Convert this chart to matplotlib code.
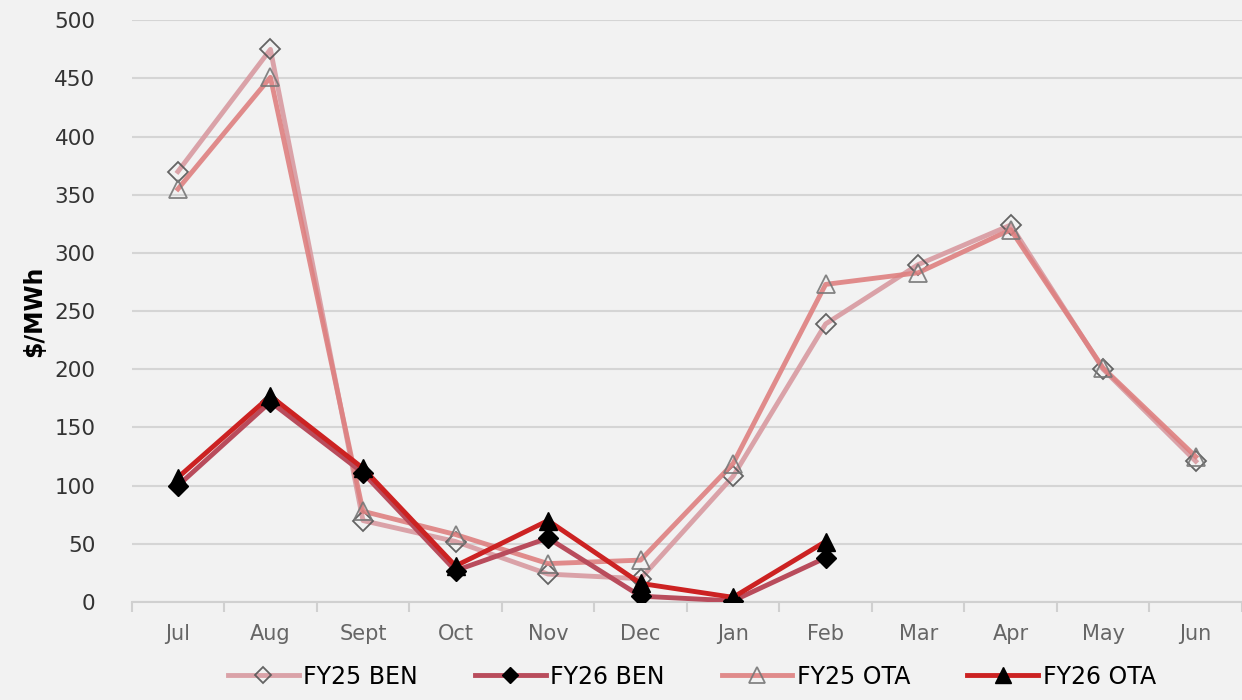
import matplotlib
matplotlib.use("Agg")
import matplotlib.pyplot as plt
import numpy as np

months = ["Jul", "Aug", "Sept", "Oct", "Nov", "Dec", "Jan", "Feb", "Mar", "Apr", "May", "Jun"]
fy25_ben = [370, 475, 70, 52, 24, 20, 108, 239, 290, 324, 200, 121]
fy26_ben = [100, 172, 111, 27, 55, 5, 1, 38]
fy25_ota = [355, 451, 78, 58, 33, 36, 119, 273, 283, 320, 201, 125]
fy26_ota = [107, 177, 115, 31, 70, 16, 4, 52]
yticks = list(range(0, 501, 50))

BG = "#f2f2f2"
plt.rcParams["font.family"] = ["DejaVu Sans"]

fig = plt.figure(figsize=(12.42, 7), dpi=100, facecolor=BG)
ax = fig.add_axes([0.106, 0.14, 0.894, 0.831], facecolor=BG)

x = np.arange(len(months))
ax.plot(x, fy25_ben, color="#d89aa0", lw=3.5, alpha=0.9, marker="D", ms=10,
        mfc="none", mec="#555555", mew=1.3, label="FY25 BEN", zorder=3)
ax.plot(x[:len(fy26_ben)], fy26_ben, color="#b94c5c", lw=3.5, marker="D", ms=10,
        mfc="black", mec="black", label="FY26 BEN", zorder=5)
ax.plot(x, fy25_ota, color="#de8080", lw=3.5, alpha=0.9, marker="^", ms=13,
        mfc="none", mec="#777777", mew=1.3, label="FY25 OTA", zorder=4)
ax.plot(x[:len(fy26_ota)], fy26_ota, color="#cc2222", lw=3.5, marker="^", ms=13,
        mfc="black", mec="black", label="FY26 OTA", zorder=6)

ax.set_xlim(-0.5, len(months) - 0.5)
ax.set_ylim(0, 500)
ax.set_yticks(yticks)
ax.set_xticks(x)
ax.set_xticklabels(months)
ax.set_xticks(np.arange(-0.5, len(months)), minor=True)
ax.tick_params(axis="x", which="major", length=0, pad=16, labelsize=15, labelcolor="#666666")
ax.tick_params(axis="x", which="minor", length=7, color="#d0d0d0", width=1.5)
ax.tick_params(axis="y", length=0, pad=26, labelsize=15.5, labelcolor="#333333")
ax.grid(True, axis="y", color="#d5d5d5", lw=1.5)
ax.set_axisbelow(True)
for s in ("top", "right", "left"):
    ax.spines[s].set_visible(False)
ax.spines["bottom"].set_color("#d0d0d0")
ax.spines["bottom"].set_linewidth(1.5)

ax.set_ylabel("$/MWh", fontsize=17, fontweight="bold", labelpad=6)

fig.legend(loc="lower center", bbox_to_anchor=(0.557, -0.014), ncol=4, frameon=False,
           fontsize=17, handlelength=3.0, handletextpad=0.2, columnspacing=2.4,
           markerscale=0.85)

fig.savefig("out.png", dpi=100, facecolor=BG)
